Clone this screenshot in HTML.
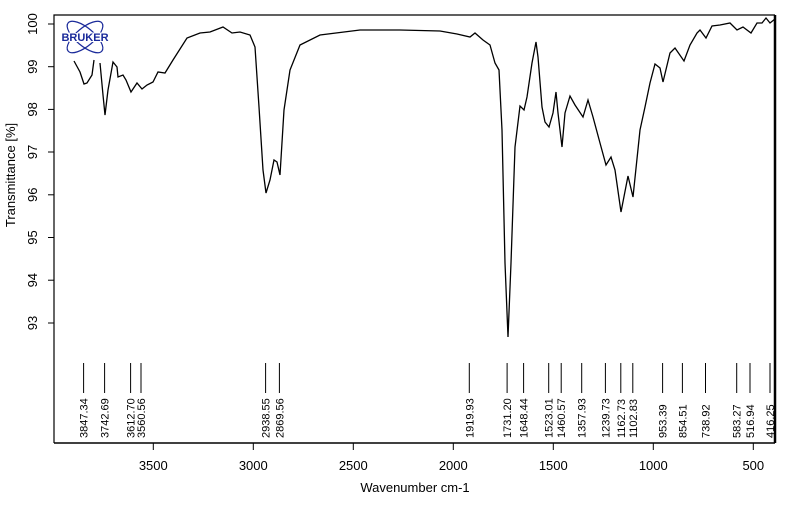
<!DOCTYPE html>
<html><head><style>body{margin:0;background:#fff}svg{display:block}text{font-family:"Liberation Sans",Arial,sans-serif}</style></head><body>
<svg width="789" height="508" viewBox="0 0 789 508" xmlns="http://www.w3.org/2000/svg">
<rect width="789" height="508" fill="#fff"/>
<path d="M54,443 V15 H775" fill="none" stroke="#000" stroke-width="1.2"/>
<line x1="54" y1="443" x2="775" y2="443" stroke="#000" stroke-width="1.5"/>
<line x1="775" y1="15" x2="775" y2="443" stroke="#000" stroke-width="2.5"/>
<g stroke="#000" stroke-width="1">
<line x1="48" y1="24" x2="54" y2="24"/><line x1="48" y1="66.7" x2="54" y2="66.7"/><line x1="48" y1="109.4" x2="54" y2="109.4"/><line x1="48" y1="152" x2="54" y2="152"/><line x1="48" y1="194.8" x2="54" y2="194.8"/><line x1="48" y1="237.5" x2="54" y2="237.5"/><line x1="48" y1="280.2" x2="54" y2="280.2"/><line x1="48" y1="323" x2="54" y2="323"/>
<line x1="153.3" y1="443" x2="153.3" y2="450"/><line x1="253.3" y1="443" x2="253.3" y2="450"/><line x1="353.3" y1="443" x2="353.3" y2="450"/><line x1="453.3" y1="443" x2="453.3" y2="450"/><line x1="553.3" y1="443" x2="553.3" y2="450"/><line x1="653.3" y1="443" x2="653.3" y2="450"/><line x1="753.3" y1="443" x2="753.3" y2="450"/>
</g>
<g font-size="13" text-anchor="middle" fill="#000">
<text transform="translate(37,24) rotate(-90)">100</text>
<text transform="translate(37,66.7) rotate(-90)">99</text>
<text transform="translate(37,109.4) rotate(-90)">98</text>
<text transform="translate(37,152) rotate(-90)">97</text>
<text transform="translate(37,194.8) rotate(-90)">96</text>
<text transform="translate(37,237.5) rotate(-90)">95</text>
<text transform="translate(37,280.2) rotate(-90)">94</text>
<text transform="translate(37,323) rotate(-90)">93</text>
<text transform="translate(15,175) rotate(-90)">Transmittance [%]</text>
<text x="153.3" y="470">3500</text><text x="253.3" y="470">3000</text><text x="353.3" y="470">2500</text><text x="453.3" y="470">2000</text><text x="553.3" y="470">1500</text><text x="653.3" y="470">1000</text><text x="753.3" y="470">500</text>
<text x="415" y="492">Wavenumber cm-1</text>
</g>
<path fill="none" stroke="#000" stroke-width="1.3" d="M74,61 L80,72 L84,84 L87,83 L92,75 L94,60 M100,63 L103,95 L105,115 L108,90 L113,62 L117,67 L118,77 L123,75 L126,80 L131,92 L137,83 L142,89 L147,85 L153,82 L158,72 L165,73 L173,60 L187,38 L200,33 L210,32 L223,27 L232,33 L240,32 L250,35 L255,47 L259,107 L263,170 L266,193 L270,180 L274,160 L277,162 L280,175 L284,110 L290,70 L300,45 L320,35 L360,30 L400,30 L440,31 L457,34 L470,37 L475,33 L483,40 L490,45 L495,63 L499,70 L502,130 L505,263 L508,337 L511,263 L515,147 L520,106 L524,110 L527,97 L532,63 L536,42 L538,57 L542,107 L545,122 L549,127 L553,113 L556,92 L558,113 L562,147 L565,113 L570,96 L575,105 L583,117 L588,100 L593,117 L600,143 L606,165 L611,157 L615,170 L621,212 L628,176 L633,197 L640,130 L645,107 L650,83 L655,64 L660,68 L663,82 L670,53 L675,48 L684,61 L690,45 L697,33 L700,30 L706,38 L712,26 L720,25 L730,23 L737,30 L743,27 L751,33 L757,23 L762,23 L766,18 L770,23 L775,19"/>
<g stroke="#000" stroke-width="1">
<line x1="83.6" y1="363" x2="83.6" y2="393"/><line x1="104.6" y1="363" x2="104.6" y2="393"/><line x1="130.6" y1="363" x2="130.6" y2="393"/><line x1="141" y1="363" x2="141" y2="393"/><line x1="265.6" y1="363" x2="265.6" y2="393"/><line x1="279.4" y1="363" x2="279.4" y2="393"/><line x1="469.3" y1="363" x2="469.3" y2="393"/><line x1="507.1" y1="363" x2="507.1" y2="393"/><line x1="523.6" y1="363" x2="523.6" y2="393"/><line x1="548.7" y1="363" x2="548.7" y2="393"/><line x1="561.2" y1="363" x2="561.2" y2="393"/><line x1="581.7" y1="363" x2="581.7" y2="393"/><line x1="605.4" y1="363" x2="605.4" y2="393"/><line x1="620.8" y1="363" x2="620.8" y2="393"/><line x1="632.8" y1="363" x2="632.8" y2="393"/><line x1="662.6" y1="363" x2="662.6" y2="393"/><line x1="682.4" y1="363" x2="682.4" y2="393"/><line x1="705.5" y1="363" x2="705.5" y2="393"/><line x1="736.7" y1="363" x2="736.7" y2="393"/><line x1="750" y1="363" x2="750" y2="393"/><line x1="770" y1="363" x2="770" y2="393"/>
</g>
<g font-size="11" fill="#000">
<text transform="translate(87.6,438) rotate(-90)">3847.34</text>
<text transform="translate(108.6,438) rotate(-90)">3742.69</text>
<text transform="translate(134.6,438) rotate(-90)">3612.70</text>
<text transform="translate(145,438) rotate(-90)">3560.56</text>
<text transform="translate(269.6,438) rotate(-90)">2938.55</text>
<text transform="translate(283.4,438) rotate(-90)">2869.56</text>
<text transform="translate(473.3,438) rotate(-90)">1919.93</text>
<text transform="translate(511.1,438) rotate(-90)">1731.20</text>
<text transform="translate(527.6,438) rotate(-90)">1648.44</text>
<text transform="translate(552.7,438) rotate(-90)">1523.01</text>
<text transform="translate(565.2,438) rotate(-90)">1460.57</text>
<text transform="translate(585.7,438) rotate(-90)">1357.93</text>
<text transform="translate(609.4,438) rotate(-90)">1239.73</text>
<text transform="translate(624.8,438) rotate(-90)">1162.73</text>
<text transform="translate(636.8,438) rotate(-90)">1102.83</text>
<text transform="translate(666.6,438) rotate(-90)">953.39</text>
<text transform="translate(686.4,438) rotate(-90)">854.51</text>
<text transform="translate(709.5,438) rotate(-90)">738.92</text>
<text transform="translate(740.7,438) rotate(-90)">583.27</text>
<text transform="translate(754,438) rotate(-90)">516.94</text>
<text transform="translate(774,438) rotate(-90)">416.25</text>
</g>
<g fill="none" stroke="#1a2a9a" stroke-width="1.2">
<ellipse cx="85" cy="37" rx="22" ry="9" transform="rotate(40 85 37)"/>
<ellipse cx="85" cy="37" rx="22" ry="9" transform="rotate(-40 85 37)"/>
</g>
<text x="85" y="41" font-size="11" font-weight="bold" fill="#1a2a9a" text-anchor="middle" stroke="#fff" stroke-width="2" paint-order="stroke">BRUKER</text>
</svg>
</body></html>
